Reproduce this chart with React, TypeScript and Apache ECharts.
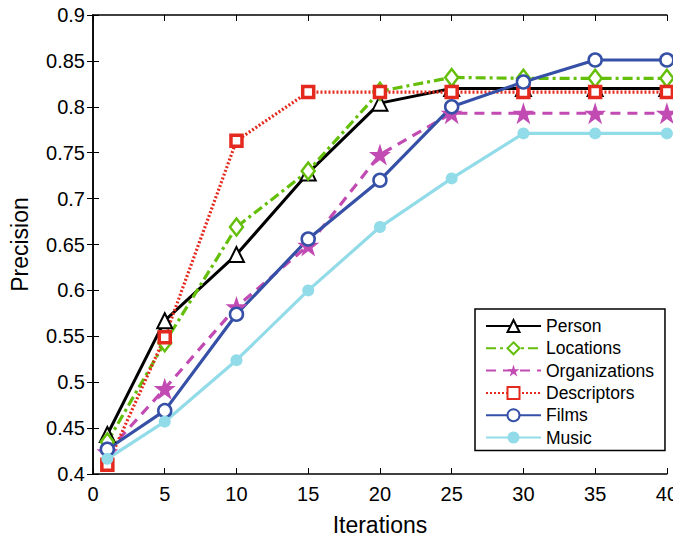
import React, { useEffect, useRef } from "react";
import * as echarts from "echarts";

// Iteration checkpoints on the x axis
const iterations = [1, 5, 10, 15, 20, 25, 30, 35, 40];

// Precision per entity type at each checkpoint
const person = [0.443, 0.567, 0.639, 0.728, 0.804, 0.82, 0.82, 0.82, 0.82];
const locations = [0.435, 0.543, 0.669, 0.73, 0.817, 0.832, 0.831, 0.831, 0.831];
const organizations = [0.424, 0.493, 0.582, 0.649, 0.748, 0.793, 0.793, 0.793, 0.793];
const descriptors = [0.41, 0.549, 0.763, 0.816, 0.816, 0.816, 0.816, 0.816, 0.816];
const films = [0.427, 0.469, 0.574, 0.656, 0.72, 0.8, 0.827, 0.851, 0.851];
const music = [0.4165, 0.457, 0.524, 0.6, 0.669, 0.722, 0.771, 0.771, 0.771];

const xTicks = { min: 0, max: 40, interval: 5 };
const yTicks = { min: 0.4, max: 0.9, interval: 0.05 };

const STAR =
  "path://M50,0 L61.8,35.4 L99,35.4 L69.1,57.3 L80.9,92.7 L50,70.8 L19.1,92.7 L30.9,57.3 L1,35.4 L38.2,35.4 Z";

const FONT = "Liberation Sans, Arial, sans-serif";

function pairs(values: number[]) {
  return iterations.map((x, i) => [x, values[i]]);
}

export default function App() {
  const ref = useRef<HTMLDivElement>(null);

  useEffect(() => {
    if (!ref.current) return;
    const chart = echarts.init(ref.current, null, { renderer: "svg" });

    const frameAxis = {
      axisLine: { show: true, lineStyle: { color: "#000", width: 1.5 } },
      axisTick: { show: true, inside: true, length: 6, lineStyle: { color: "#000", width: 1 } },
      splitLine: { show: false },
    };

    const series = [
      {
        name: "Person",
        data: pairs(person),
        color: "#000000",
        symbol: "triangle",
        symbolSize: 15,
        lineStyle: { color: "#000000", width: 3, type: "solid" },
        itemStyle: { color: "#ffffff", borderColor: "#000000", borderWidth: 2 },
      },
      {
        name: "Locations",
        data: pairs(locations),
        color: "#64bf0a",
        symbol: "diamond",
        symbolSize: [13, 17],
        lineStyle: { color: "#64bf0a", width: 3.2, type: [10, 4, 3, 4] },
        itemStyle: { color: "#ffffff", borderColor: "#64bf0a", borderWidth: 2.5 },
      },
      {
        name: "Organizations",
        data: pairs(organizations),
        color: "#c24bb3",
        symbol: STAR,
        symbolSize: 22,
        lineStyle: { color: "#c24bb3", width: 3.2, type: [10, 7] },
        itemStyle: { color: "#c24bb3", borderColor: "#c24bb3", borderWidth: 0 },
      },
      {
        name: "Descriptors",
        data: pairs(descriptors),
        color: "#e42a1e",
        symbol: "rect",
        symbolSize: 11,
        lineStyle: { color: "#e42a1e", width: 3.2, type: [2, 2] },
        itemStyle: { color: "#ffffff", borderColor: "#e42a1e", borderWidth: 3.5 },
      },
      {
        name: "Films",
        data: pairs(films),
        color: "#3550a6",
        symbol: "circle",
        symbolSize: 13,
        lineStyle: { color: "#3550a6", width: 3.2, type: "solid" },
        itemStyle: { color: "#ffffff", borderColor: "#3550a6", borderWidth: 2.5 },
      },
      {
        name: "Music",
        data: pairs(music),
        color: "#92dbe8",
        symbol: "circle",
        symbolSize: 12,
        lineStyle: { color: "#92dbe8", width: 3.2, type: "solid" },
        itemStyle: { color: "#92dbe8", borderColor: "#92dbe8", borderWidth: 0 },
      },
    ].map((s) => ({
      type: "line",
      xAxisIndex: 0,
      yAxisIndex: 0,
      showAllSymbol: true,
      clip: false,
      z: 3,
      ...s,
    }));

    chart.setOption({
      animation: false,
      backgroundColor: "#ffffff",
      textStyle: { fontFamily: FONT },
      grid: { left: 89, right: 7, top: 15, bottom: 63, containLabel: false },
      legend: {
        orient: "vertical",
        left: 475,
        top: 309,
        padding: [8, 11, 4, 10],
        backgroundColor: "#ffffff",
        borderColor: "#000000",
        borderWidth: 1.5,
        borderRadius: 0,
        itemWidth: 55,
        itemHeight: 15,
        itemGap: 4.3,
        textStyle: { fontFamily: FONT, fontSize: 17.5, lineHeight: 18, color: "#000" },
        data: ["Person", "Locations", "Organizations", "Descriptors", "Films", "Music"],
      },
      xAxis: [
        {
          type: "value",
          position: "bottom",
          ...xTicks,
          ...frameAxis,
          axisLabel: { color: "#000", fontSize: 20, fontFamily: FONT, margin: 10 },
          name: "Iterations",
          nameLocation: "middle",
          nameGap: 39,
          nameTextStyle: { color: "#000", fontSize: 23, fontFamily: FONT },
        },
        {
          type: "value",
          position: "top",
          ...xTicks,
          ...frameAxis,
          axisLabel: { show: false },
        },
      ],
      yAxis: [
        {
          type: "value",
          position: "left",
          ...yTicks,
          ...frameAxis,
          axisLabel: {
            color: "#000",
            fontSize: 20,
            fontFamily: FONT,
            margin: 8,
            formatter: (v: number) => String(+v.toFixed(2)),
          },
          name: "Precision",
          nameLocation: "middle",
          nameGap: 62,
          nameTextStyle: { color: "#000", fontSize: 23, fontFamily: FONT },
        },
        {
          type: "value",
          position: "right",
          ...yTicks,
          ...frameAxis,
          axisLabel: { show: false },
        },
      ],
      series,
    });

    return () => chart.dispose();
  }, []);

  return <div ref={ref} style={{ width: 681, height: 541, margin: -8 }} />;
}
